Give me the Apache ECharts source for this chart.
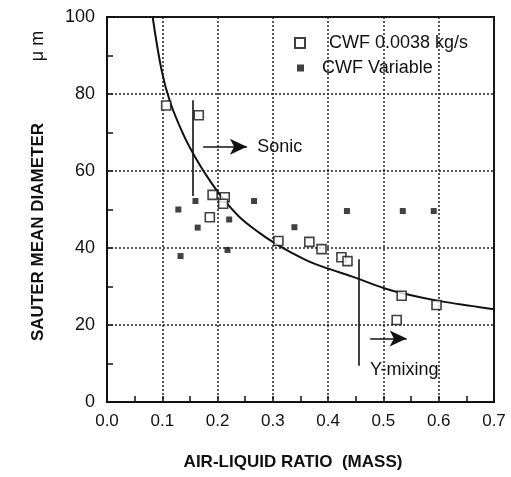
<!DOCTYPE html>
<html>
<head>
<meta charset="utf-8">
<script src="https://cdn.jsdelivr.net/npm/echarts@6/dist/echarts.min.js"></script>
<style>html,body{margin:0;padding:0;background:#fff}#c{width:511px;height:477px}</style>
</head>
<body>
<div id="c"></div>
<script>
// x tick labels and y tick values
var xTicks = [0.0, 0.1, 0.2, 0.3, 0.4, 0.5, 0.6, 0.7];
var yTicks = [0, 20, 40, 60, 80, 100];

// CWF 0.0038 kg/s (open squares)
var cwfConst = [[0.107,77],[0.166,74.5],[0.191,53.8],[0.213,53.2],[0.21,51.5],[0.186,48],[0.31,41.8],
  [0.366,41.6],[0.388,39.7],[0.424,37.6],[0.435,36.6],[0.533,27.6],[0.524,21.3],[0.596,25.2]];
// CWF Variable (filled squares)
var cwfVar = [[0.160,52.2],[0.266,52.2],[0.129,50],[0.164,45.3],[0.221,47.4],[0.133,37.9],[0.218,39.5],
  [0.339,45.4],[0.434,49.6],[0.535,49.6],[0.591,49.6]];
// fitted curve
var curve = [[0.0826,100],[0.099,86],[0.114,78],[0.138,69.5],[0.156,64.5],[0.18,58.8],[0.21,52.8],[0.24,48],
  [0.277,43.8],[0.304,41.2],[0.331,39],[0.367,36.4],[0.403,34.5],[0.445,32.5],[0.503,29.5],[0.548,27.8],
  [0.602,26.2],[0.662,24.9],[0.7,24.1]];

// annotations (data coordinates)
var sonicLine = [[0.156,78.4],[0.156,53.5]];
var sonicArrow = [[0.174,66.3],[0.253,66.3]];
var sonicLabel = [0.271,66.3];
var mixLine = [[0.456,37.1],[0.456,9.4]];
var mixArrow = [[0.476,16.5],[0.542,16.5]];
var mixLabel = [0.475,8.3];

var FONT = "'Liberation Sans', Arial, Helvetica, sans-serif";
var chart = echarts.init(document.getElementById('c'));

function lineSeg(p){ return [{coord:p[0], symbol:'none'},{coord:p[1], symbol:'none'}]; }
function arrowSeg(p){ return [{coord:p[0], symbol:'none'},{coord:p[1], symbol:'arrow', symbolSize:[12,17]}]; }

chart.setOption({
  animation:false,
  backgroundColor:'#fff',
  grid:{left:107,right:17,top:17,bottom:75,show:true,borderColor:'#111',borderWidth:2,backgroundColor:'transparent'},
  xAxis:{
    type:'value',min:xTicks[0],max:xTicks[xTicks.length-1],interval:0.1,
    axisLine:{show:true,lineStyle:{color:'#111',width:2}},
    axisTick:{show:true,inside:true,length:6,lineStyle:{color:'#111',width:1.5}},
    minorTick:{show:true,splitNumber:2,length:6,lineStyle:{color:'#111',width:1.5}},
    axisLabel:{margin:11,fontSize:17,color:'#111',fontFamily:FONT,formatter:function(v){return v.toFixed(1);}},
    splitLine:{show:true,lineStyle:{color:'#222',width:1.5,type:[2,2]}}
  },
  yAxis:{
    type:'value',min:yTicks[0],max:yTicks[yTicks.length-1],interval:20,
    axisLine:{show:true,lineStyle:{color:'#111',width:2}},
    axisTick:{show:true,inside:true,length:6,lineStyle:{color:'#111',width:1.5}},
    minorTick:{show:true,splitNumber:2,length:6,lineStyle:{color:'#111',width:1.5}},
    axisLabel:{margin:12,fontSize:18,color:'#111',fontFamily:FONT},
    splitLine:{show:true,lineStyle:{color:'#222',width:1.5,type:[2,2]}}
  },
  legend:[
    {data:[{name:'CWF 0.0038 kg/s',icon:'rect'}],left:294,top:33,padding:0,itemWidth:10,itemHeight:10,
     textStyle:{fontSize:18,fontFamily:FONT,color:'#111',lineHeight:20,padding:[0,0,0,19]}},
    {data:[{name:'CWF Variable',icon:'rect'}],left:297,top:58,padding:0,itemWidth:7,itemHeight:7,
     textStyle:{fontSize:18,fontFamily:FONT,color:'#111',lineHeight:20,padding:[0,0,0,13]}}
  ],
  graphic:[
    {type:'text',x:38,y:232,rotation:Math.PI/2,style:{text:'SAUTER MEAN DIAMETER',font:'bold 17px '+FONT,fill:'#111',textAlign:'center',textVerticalAlign:'middle'}},
    {type:'text',x:38,y:46,rotation:Math.PI/2,style:{text:'μ m',font:'18px '+FONT,fill:'#111',textAlign:'center',textVerticalAlign:'middle'}},
    {type:'text',x:293,y:462,style:{text:'AIR-LIQUID RATIO  (MASS)',font:'bold 17px '+FONT,fill:'#111',textAlign:'center',textVerticalAlign:'middle'}}
  ],
  series:[
    {name:'curve',type:'line',data:curve,smooth:0.4,showSymbol:false,symbol:'none',
     lineStyle:{color:'#111',width:2},z:3,silent:true,
     markLine:{silent:true,symbol:['none','none'],label:{show:false},lineStyle:{color:'#111',width:1.6,type:'solid'},
       data:[lineSeg(sonicLine),arrowSeg(sonicArrow),lineSeg(mixLine),arrowSeg(mixArrow)]},
     markPoint:{silent:true,symbol:'rect',symbolSize:1,itemStyle:{color:'transparent'},
       label:{show:true,position:'right',distance:0,fontSize:18,fontFamily:FONT,color:'#111'},
       data:[{coord:sonicLabel,value:'Sonic',label:{formatter:'Sonic'}},{coord:mixLabel,value:'Y-mixing',label:{formatter:'Y-mixing'}}]}
    },
    {name:'CWF 0.0038 kg/s',type:'scatter',data:cwfConst,symbol:'rect',symbolSize:9,z:4,
     itemStyle:{color:'#fff',borderColor:'#111',borderWidth:1.6}},
    {name:'CWF Variable',type:'scatter',data:cwfVar,symbol:'rect',symbolSize:6,z:4,
     itemStyle:{color:'#111'}}
  ]
});
</script>
</body>
</html>
